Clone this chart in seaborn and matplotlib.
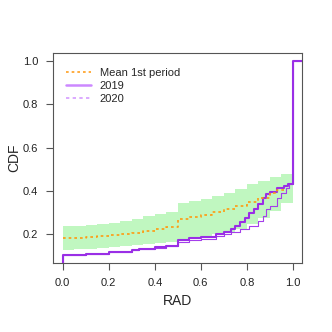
import numpy as np
import pandas as pd
import matplotlib
matplotlib.use("Agg")
import matplotlib.pyplot as plt
import seaborn as sns
from matplotlib.lines import Line2D

# ---- data ----
band_x = [0.0, 0.05, 0.1, 0.15, 0.2, 0.25, 0.3, 0.35, 0.4, 0.45, 0.5, 0.55, 0.6, 0.65,
          0.7, 0.75, 0.8, 0.85, 0.9, 0.95, 1.0]
band_hi = [0.236, 0.238, 0.241, 0.245, 0.250, 0.258, 0.268, 0.283, 0.291, 0.300, 0.345, 0.352,
           0.362, 0.375, 0.390, 0.408, 0.430, 0.445, 0.462, 0.476, 0.485]
band_lo = [0.127, 0.129, 0.132, 0.135, 0.139, 0.143, 0.150, 0.155, 0.158, 0.162, 0.176, 0.182,
           0.189, 0.198, 0.210, 0.225, 0.248, 0.272, 0.305, 0.345, 0.388]

mean_x = [0.0, 0.05, 0.1, 0.15, 0.2, 0.25, 0.3, 0.35, 0.4, 0.45, 0.5, 0.55, 0.6, 0.65,
          0.7, 0.75, 0.8, 0.85, 0.9, 0.93, 0.96]
mean_y = [0.181, 0.183, 0.186, 0.190, 0.194, 0.200, 0.207, 0.215, 0.224, 0.234, 0.270, 0.279,
          0.288, 0.300, 0.315, 0.330, 0.348, 0.366, 0.390, 0.405, 0.415]

y2019_x = [-0.1, 0.0, 0.1, 0.2, 0.3, 0.333, 0.4, 0.45, 0.5, 0.55, 0.6, 0.667, 0.7, 0.73, 0.75, 0.77,
           0.79, 0.81, 0.83, 0.85, 0.87, 0.885, 0.9, 0.93, 0.96, 0.98, 1.0, 1.1]
y2019_y = [0.0, 0.105, 0.109, 0.116, 0.125, 0.131, 0.138, 0.144, 0.172, 0.180, 0.188, 0.200, 0.210, 0.223,
           0.235, 0.254, 0.275, 0.298, 0.318, 0.340, 0.365, 0.385, 0.396, 0.411, 0.422, 0.432, 1.0, 1.0]

y2020_x = [-0.1, 0.0, 0.1, 0.2, 0.3, 0.333, 0.4, 0.45, 0.5, 0.55, 0.6, 0.667, 0.7, 0.73, 0.77, 0.81,
           0.85, 0.87, 0.885, 0.9, 0.93, 0.95, 0.97, 0.985, 1.0, 1.1]
y2020_y = [0.0, 0.104, 0.108, 0.115, 0.124, 0.130, 0.137, 0.143, 0.163, 0.170, 0.178, 0.192, 0.200, 0.208,
           0.222, 0.238, 0.258, 0.285, 0.315, 0.332, 0.369, 0.390, 0.415, 0.430, 1.0, 1.0]

legend_labels = ["Mean 1st period", "2019", "2020"]
x_ticks = [0.0, 0.2, 0.4, 0.6, 0.8, 1.0]
y_ticks = [0.2, 0.4, 0.6, 0.8, 1.0]

# ---- plot ----
sns.set_style("white")
plt.rcParams['font.family'] = ['Liberation Sans', 'DejaVu Sans']

fig = plt.figure(figsize=(3.32, 3.32), dpi=100)
ax = fig.add_axes([0.161, 0.208, 0.749, 0.632])

ax.fill_between(band_x, band_lo, band_hi, step='post', color='#C0F7C0', linewidth=0)

df19 = pd.DataFrame({'x': y2019_x, 'y': y2019_y})
df20 = pd.DataFrame({'x': y2020_x, 'y': y2020_y})
dfm = pd.DataFrame({'x': mean_x, 'y': mean_y})

sns.lineplot(data=df20, x='x', y='y', ax=ax, estimator=None, sort=False,
             drawstyle='steps-post', color='#A43EEB', linewidth=0.8)
sns.lineplot(data=df19, x='x', y='y', ax=ax, estimator=None, sort=False,
             drawstyle='steps-post', color='#9A2FE6', linewidth=1.5)
sns.lineplot(data=dfm, x='x', y='y', ax=ax, estimator=None, sort=False,
             drawstyle='steps-post', color='#FF9A10', linewidth=1.2, linestyle=(0, (1.6, 1.8)))

ax.set_xlim(-0.04, 1.04)
ax.set_ylim(0.066, 1.038)
ax.set_xticks(x_ticks)
ax.set_xticklabels([f"{v:.1f}" for v in x_ticks])
ax.set_yticks(y_ticks)
ax.set_yticklabels([f"{v:.1f}" for v in y_ticks])
ax.tick_params(axis='both', length=5, width=0.8, color='#555555', labelsize=8,
               labelcolor='#222222', pad=6, direction='out', bottom=True, left=True)
for s in ax.spines.values():
    s.set_color('#555555')
    s.set_linewidth(0.8)
ax.set_xlabel("RAD", fontsize=10, va='center')
ax.set_ylabel("CDF", fontsize=10, va='center')
ax.xaxis.set_label_coords(0.5, -0.181)
ax.yaxis.set_label_coords(-0.159, 0.5)

handles = [
    Line2D([0], [0], color='#FFA020', linewidth=1.2, linestyle=(0, (1.6, 1.8))),
    Line2D([0], [0], color='#CC88FF', linewidth=1.8),
    Line2D([0], [0], color='#D59CFF', linewidth=1.2, linestyle=(0, (2, 2))),
]
ax.legend(handles, legend_labels, loc='upper left', frameon=False, fontsize=8,
          handlelength=2.2, handletextpad=0.8, labelspacing=0.25,
          bbox_to_anchor=(0.02, 0.965), borderaxespad=0.3)

fig.savefig("out.png", dpi=100)
